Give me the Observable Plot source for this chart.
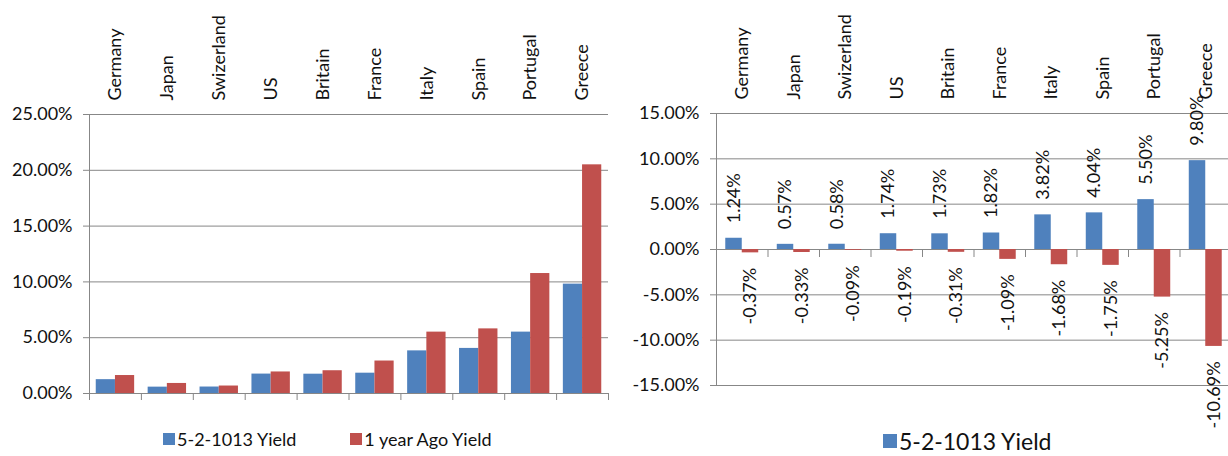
<!DOCTYPE html>
<html>
<head>
<meta charset="utf-8">
<script src="https://cdn.jsdelivr.net/npm/d3@7"></script>
<script src="https://cdn.jsdelivr.net/npm/@observablehq/plot@0.6"></script>
<style>
  html, body { margin: 0; padding: 0; background: #fff; overflow: hidden; }
  #page { position: relative; width: 1228px; height: 456px; overflow: hidden; font-family: Lato, sans-serif; color: #111; }
  .panel { position: absolute; top: 0; height: 456px; overflow: hidden; }
  .panel svg { max-width: none !important; }
  .legend { position: absolute; display: flex; align-items: center; white-space: nowrap; height: 26px; }
  .legend .sw { display: inline-block; }
</style>
</head>
<body>
<div id="page">
  <div class="panel" id="left" style="left:0;width:614px"></div>
  <div class="panel" id="right" style="left:614px;width:614px"></div>
  <div class="legend" id="legend-left" style="left:163px;top:426px;font-size:18px"></div>
  <div class="legend" id="legend-right" style="left:883px;top:428px;font-size:23px"></div>
</div>
<script>
// 10-year government bond yields, in percent
const countries = ["Germany", "Japan", "Swizerland", "US", "Britain", "France", "Italy", "Spain", "Portugal", "Greece"];
const currentYield = [1.24, 0.57, 0.58, 1.74, 1.73, 1.82, 3.82, 4.04, 5.50, 9.80];
const yearAgoYield = [1.61, 0.90, 0.67, 1.93, 2.04, 2.91, 5.50, 5.79, 10.75, 20.49];
const yieldChange = [-0.37, -0.33, -0.09, -0.19, -0.31, -1.09, -1.68, -1.75, -5.25, -10.69];

const seriesNames = ["5-2-1013 Yield", "1 year Ago Yield"];
const seriesColors = ["#4F81BD", "#C0504D"];

const leftTicks = [0, 5, 10, 15, 20, 25];
const rightTicks = [-15, -10, -5, 0, 5, 10, 15];

const rows = countries.map((country, i) => ({
  i, country,
  current: currentYield[i],
  ago: yearAgoYield[i],
  change: yieldChange[i]
}));

const pct = v => v.toFixed(2) + "%";
const gray = "#878787";
const ink = "#111";
const bounds = d3.range(countries.length + 1);
const centers = rows.map(d => d.i + 0.5);
const baseStyle = {fontFamily: "Lato, sans-serif", fontSize: "18px", color: ink, background: "transparent", overflow: "visible", maxWidth: "none"};

// Left: current vs. one-year-ago yields, grouped by country
const left = Plot.plot({
  width: 614,
  height: 420,
  marginLeft: 89,
  marginRight: 6,
  marginTop: 114,
  marginBottom: 27,
  style: baseStyle,
  x: {domain: [0, countries.length]},
  y: {domain: [0, 25]},
  marks: [
    Plot.gridY(leftTicks, {stroke: gray, strokeOpacity: 1}),
    Plot.axisY(leftTicks, {tickSize: 6, tickPadding: 11, tickFormat: pct, stroke: gray, fill: ink}),
    Plot.rectY(rows, {x1: d => d.i + 0.13, x2: d => d.i + 0.5, y1: 0, y2: "current", fill: seriesColors[0]}),
    Plot.rectY(rows, {x1: d => d.i + 0.5, x2: d => d.i + 0.87, y1: 0, y2: "ago", fill: seriesColors[1]}),
    Plot.ruleX([0], {stroke: gray}),
    Plot.ruleY([0], {stroke: gray}),
    Plot.ruleX(bounds, {y1: 0, y2: 0, insetBottom: -7, stroke: gray}),
    Plot.axisX(centers, {anchor: "top", tickSize: 0, tickPadding: 14, tickRotate: -90, tickFormat: v => countries[Math.floor(v)], fill: ink})
  ]
});

// Right: current yield and its change over the year, with value labels
const right = Plot.plot({
  width: 621,
  height: 456,
  marginLeft: 102,
  marginRight: 4,
  marginTop: 113,
  marginBottom: 71,
  style: baseStyle,
  x: {domain: [0, countries.length]},
  y: {domain: [-15, 15]},
  marks: [
    Plot.gridY(rightTicks, {stroke: gray, strokeOpacity: 1}),
    Plot.axisY(rightTicks, {tickSize: 6, tickPadding: 11, tickFormat: pct, stroke: gray, fill: ink}),
    Plot.rectY(rows, {x1: d => d.i + 0.18, x2: d => d.i + 0.5, y1: 0, y2: "current", fill: seriesColors[0]}),
    Plot.rectY(rows, {x1: d => d.i + 0.5, x2: d => d.i + 0.82, y1: 0, y2: "change", fill: seriesColors[1]}),
    Plot.ruleX([0], {stroke: gray}),
    Plot.ruleX(bounds, {y1: 0, y2: 0, insetBottom: -8, stroke: gray}),
    Plot.text(rows, {x: d => d.i + 0.34, y: "current", text: d => pct(d.current), rotate: -90, textAnchor: "start", dy: -15, fill: ink}),
    Plot.text(rows, {x: d => d.i + 0.66, y: "change", text: d => pct(d.change), rotate: -90, textAnchor: "end", dy: 15, fill: ink}),
    Plot.axisX(centers, {anchor: "top", tickSize: 0, tickPadding: 14, tickRotate: -90, tickFormat: v => countries[Math.floor(v)], fill: ink})
  ]
});

document.getElementById("left").appendChild(left);
document.getElementById("right").appendChild(right);

// Legends built from the same series names and colours
function legend(el, items, size, gap) {
  items.forEach((item, k) => {
    const span = document.createElement("span");
    span.style.display = "inline-flex";
    span.style.alignItems = "center";
    if (k > 0) span.style.marginLeft = gap + "px";
    const sw = document.createElement("span");
    sw.className = "sw";
    sw.style.width = size + "px";
    sw.style.height = size + "px";
    sw.style.background = item.color;
    sw.style.marginRight = "2px";
    span.appendChild(sw);
    span.appendChild(document.createTextNode(item.name));
    el.appendChild(span);
  });
}
legend(document.getElementById("legend-left"),
  seriesNames.map((name, k) => ({name, color: seriesColors[k]})), 12, 54);
legend(document.getElementById("legend-right"),
  [{name: seriesNames[0], color: seriesColors[0]}], 14, 0);
</script>
</body>
</html>
